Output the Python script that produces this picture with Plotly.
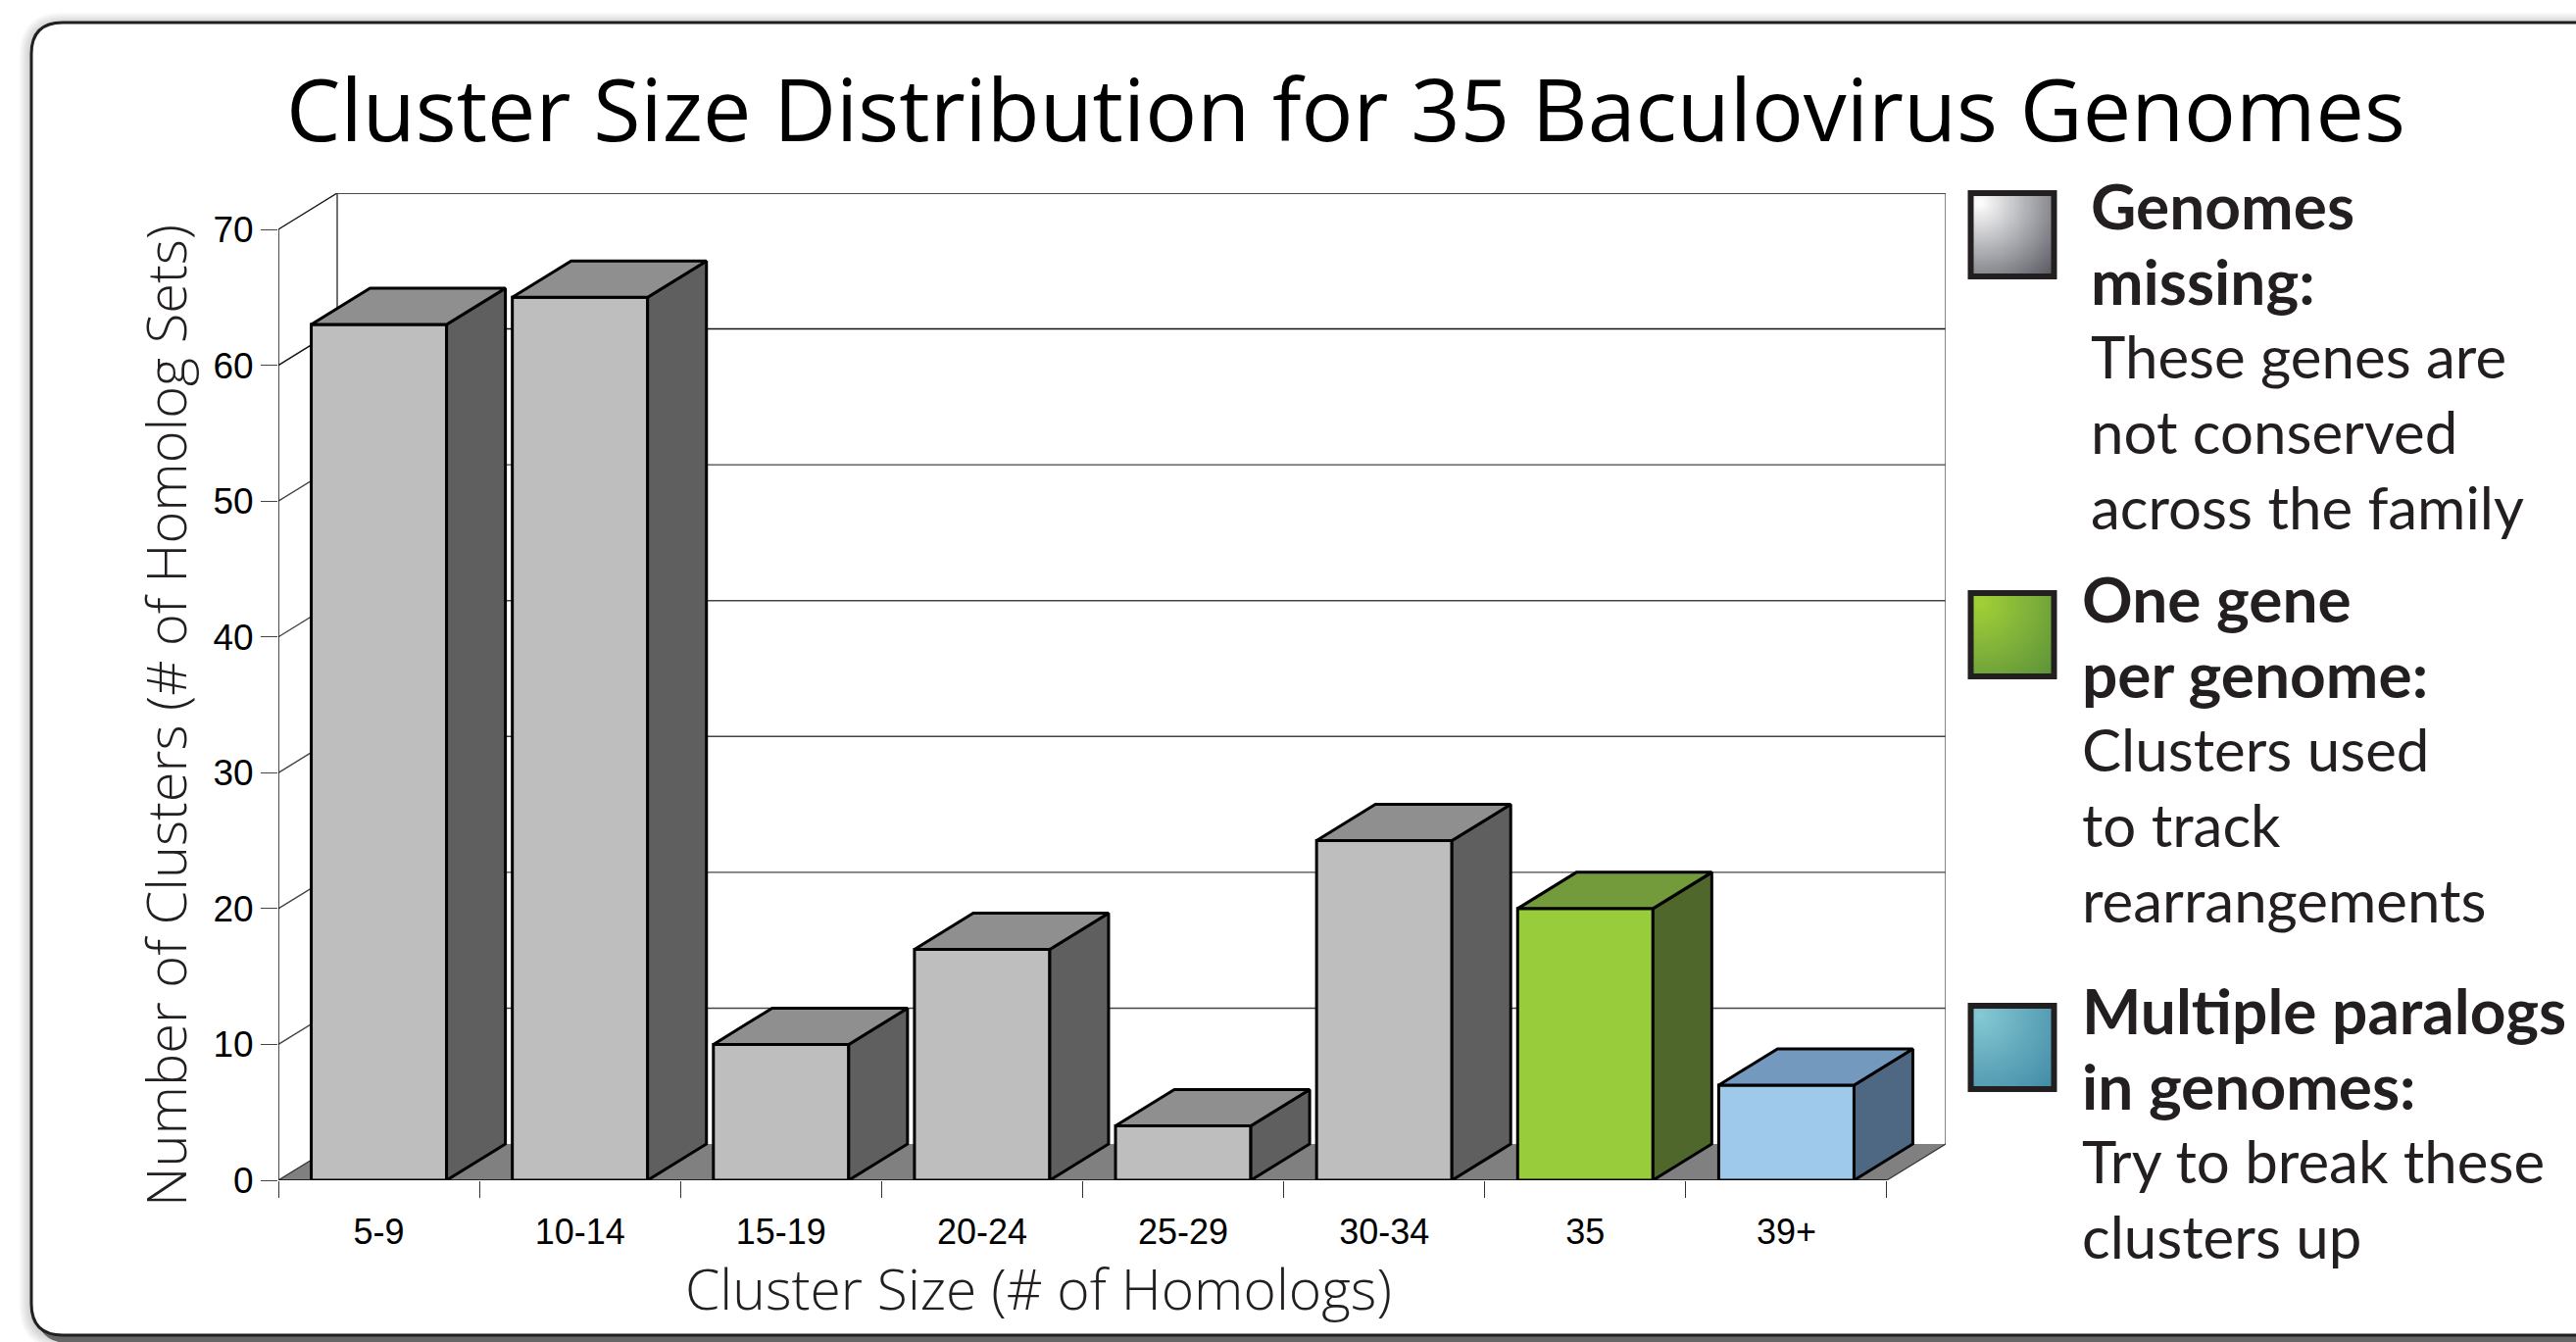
import numpy as np
import plotly.graph_objects as go

W, H = 2628, 1369

# ---- data ----
categories = ["5-9", "10-14", "15-19", "20-24", "25-29", "30-34", "35", "39+"]
cluster_counts = [63, 65, 10, 17, 4, 25, 20, 7]
y_ticks = [0, 10, 20, 30, 40, 50, 60, 70]

front_colors = ["#BEBEBE"] * 6 + ["#99CC3B", "#9FC9EB"]
top_colors = ["#8F8F8F"] * 6 + ["#739B3C", "#7399BE"]
side_colors = ["#5F5F5F"] * 6 + ["#4F672B", "#4E6883"]

legend_blocks = [
    (2131, 209, ["Genomes", "missing:"], ["These genes are", "not conserved", "across the family"]),
    (2122, 610, ["One gene", "per genome:"], ["Clusters used", "to track", "rearrangements"]),
    (2122, 1030, ["Multiple paralogs", "in genomes:"], ["Try to break these", "clusters up"]),
]
swatches = [
    (194, ["#FFFFFF", "#A9AAAF", "#55565E"]),
    (602, ["#A2D035", "#7FB03A", "#5A9238"]),
    (1023, ["#84C9D3", "#62A8BC", "#3F8BA5"]),
]

# ---- layout geometry (pixels) ----
PX_LEFT, PX_RIGHT, PX_TOP, PX_BOTTOM = 284, 1985, 197, 1204
DEPTH_X = 60 / 205.1      # depth of the 3-D box in category units
DEPTH_Y = 37 / 13.857     # depth of the 3-D box in value units
BAR_W = 0.673
N = len(categories)
YMAX = y_ticks[-1]
LINE = "#000000"

fig = go.Figure()


def poly(xs, ys, fill, axes=("x", "y"), lw=0, lc=LINE):
    fig.add_trace(go.Scatter(
        x=xs, y=ys, mode="lines", fill="toself" if fill else "none", fillcolor=fill,
        line=dict(color=lc, width=lw), xaxis=axes[0], yaxis=axes[1],
        showlegend=False, hoverinfo="skip", cliponaxis=False))


# floor
poly([0, DEPTH_X, N + DEPTH_X, N, 0], [0, DEPTH_Y, DEPTH_Y, 0, 0], "#808080")

# back-wall grid lines + side-wall diagonals
for v in y_ticks:
    if v == 0:
        continue
    poly([0, DEPTH_X, N + DEPTH_X], [v, v + DEPTH_Y, v + DEPTH_Y], None, lw=1.4,
         lc="#111111" if v >= 60 else "#444444")
# wall outlines
poly([0, 0], [0, YMAX], None, lw=1.4)
poly([DEPTH_X, DEPTH_X], [DEPTH_Y, YMAX + DEPTH_Y], None, lw=1.4, lc="#333333")
poly([N + DEPTH_X, N + DEPTH_X], [DEPTH_Y, YMAX + DEPTH_Y], None, lw=1.4, lc="#555555")
poly([0, DEPTH_X], [0, DEPTH_Y], None, lw=1.2, lc="#333333")
poly([N, N + DEPTH_X], [0, DEPTH_Y], None, lw=1.2, lc="#333333")
poly([0, N], [0, 0], None, lw=1.6)

# bars: real bar trace for the front faces, polygons for depth
centres = [i + 0.5 for i in range(N)]
fig.add_trace(go.Bar(
    x=centres, y=cluster_counts, width=BAR_W, xaxis="x2", yaxis="y2",
    marker=dict(color=front_colors, line=dict(color=LINE, width=3)),
    showlegend=False, hoverinfo="skip"))
for c, v, tc, sc in zip(centres, cluster_counts, top_colors, side_colors):
    x0, x1 = c - BAR_W / 2, c + BAR_W / 2
    poly([x1, x1 + DEPTH_X, x1 + DEPTH_X, x1, x1], [0, DEPTH_Y, v + DEPTH_Y, v, 0], sc, ("x2", "y2"), 3)
    poly([x0, x0 + DEPTH_X, x1 + DEPTH_X, x1, x0], [v, v + DEPTH_Y, v + DEPTH_Y, v, v], tc, ("x2", "y2"), 3)

# swatches with a diagonal gradient
for top, stops in swatches:
    n = 40
    gx, gy = np.meshgrid(np.linspace(0, 1, n), np.linspace(0, 1, n))
    z = np.clip(np.hypot(gx - 0.1, gy - 0.1) / 1.27, 0, 1)
    fig.add_trace(go.Heatmap(
        z=z, x0=2011, dx=83 / (n - 1), y0=top + 4, dy=83 / (n - 1), xaxis="x3", yaxis="y3",
        colorscale=[[0, stops[0]], [0.5, stops[1]], [1, stops[2]]], zmin=0, zmax=1,
        zsmooth="best", showscale=False, hoverinfo="skip"))

shapes = []


def px(x):
    return x / W


def py(y):
    return 1 - y / H


def panel(dx, dy, grow, fill, line, lw):
    l, t, b, r, rad = 32 + dx - grow, 23 + dy - grow, 1362 + dy + grow, W + 60, 32 + grow
    return dict(type="path", xref="paper", yref="paper", layer="below", fillcolor=fill,
                line=dict(color=line, width=lw),
                path=f"M {px(l+rad)} {py(t)} L {px(r)} {py(t)} L {px(r)} {py(b)} L {px(l+rad)} {py(b)} "
                     f"Q {px(l)} {py(b)} {px(l)} {py(b-rad)} L {px(l)} {py(t+rad)} "
                     f"Q {px(l)} {py(t)} {px(l+rad)} {py(t)} Z")


# soft drop shadow, built from faint layers
for g in (12, 10, 8, 6, 4, 2):
    shapes.append(panel(0, 2, g, "rgba(0,0,0,0.03)", "rgba(0,0,0,0)", 0))
shapes.append(panel(6, 8, 0, "#666666", "rgba(0,0,0,0)", 0))
shapes.append(panel(0, 0, 0, "#FFFFFF", "#231F20", 3))
for top, _ in swatches:
    shapes.append(dict(type="rect", xref="x3", yref="y3", layer="above", x0=2010.5, x1=2095.5,
                       y0=top + 3, y1=top + 88, fillcolor="rgba(0,0,0,0)",
                       line=dict(color="#231F20", width=6)))

ann = []
BODY = dict(family="Lato", size=60, color="#231F20")
BOLD = dict(family="Lato", size=64, color="#231F20")
for x, y, bold, plain in legend_blocks:
    for i, t in enumerate(bold + plain):
        is_bold = i < len(bold)
        ann.append(dict(xref="x3", yref="y3", x=x, y=y + i * 77, text=f"<b>{t}</b>" if is_bold else t,
                        showarrow=False, xanchor="left", yanchor="middle", font=BOLD if is_bold else BODY))
ann.append(dict(xref="x3", yref="y3", x=1059, y=1314, text="Cluster Size (# of Homologs)", showarrow=False,
                xanchor="center", yanchor="middle",
                font=dict(family="Open Sans", size=57, color="#231F20", weight=300)))
ann.append(dict(xref="x3", yref="y3", x=168, y=730, text="Number of Clusters (# of Homolog Sets)", showarrow=False,
                textangle=-90, xanchor="center", yanchor="middle",
                font=dict(family="Open Sans", size=56, color="#231F20", weight=300)))

base_x = dict(range=[0, N + DEPTH_X], domain=[PX_LEFT / W, PX_RIGHT / W], showgrid=False,
              zeroline=False, showline=False, fixedrange=True, automargin=False)
base_y = dict(range=[0, YMAX + DEPTH_Y], domain=[(H - PX_BOTTOM) / H, (H - PX_TOP) / H], showgrid=False,
              zeroline=False, showline=False, fixedrange=True, automargin=False)

fig.update_layout(
    width=W, height=H, autosize=False, margin=dict(l=0, r=0, t=0, b=0),
    paper_bgcolor="#FFFFFF", plot_bgcolor="rgba(0,0,0,0)", barmode="overlay",
    title=dict(text="Cluster Size Distribution for 35 Baculovirus Genomes",
               x=1373 / W, xanchor="center", y=1 - 113 / H, yanchor="middle",
               font=dict(family="Open Sans", size=88, color="#000000")),
    xaxis=dict(base_x, tickmode="array", tickvals=centres, ticktext=categories, ticks="outside",
               ticklen=21, tickcolor="rgba(0,0,0,0)", tickwidth=1,
               tickfont=dict(family="Liberation Sans", size=36, color="#000000")),
    yaxis=dict(base_y, tickmode="array", tickvals=y_ticks, ticks="outside", ticklen=17, tickwidth=1.4,
               tickcolor="#444444", tickfont=dict(family="Liberation Sans", size=37, color="#000000")),
    xaxis2=dict(base_x, overlaying="x", side="bottom", tickmode="array", tickvals=list(range(N + 1)),
                ticks="outside", ticklen=17, tickwidth=1.4, tickcolor="#333333", showticklabels=False),
    yaxis2=dict(base_y, overlaying="y", visible=False),
    xaxis3=dict(range=[0, W], domain=[0, 1], visible=False, fixedrange=True, automargin=False),
    yaxis3=dict(range=[H, 0], domain=[0, 1], visible=False, fixedrange=True, automargin=False),
    shapes=shapes, annotations=ann,
)

fig.write_html("out.html", config={"displayModeBar": False},
               post_script="document.body.style.margin='0';document.body.style.overflow='hidden';")
